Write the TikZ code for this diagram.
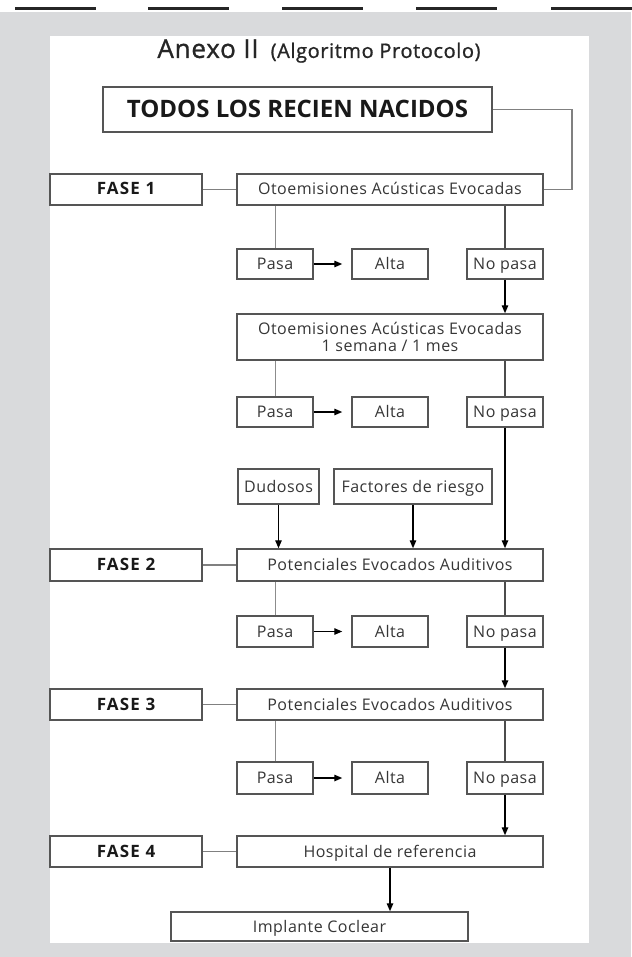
\documentclass[tikz,border=0pt]{standalone}
\usepackage{fontspec}
\setmainfont{Open Sans}
\newfontfamily\cajafont{Open Sans}[LetterSpace=3]
\newfontfamily\fasefont{Open Sans}[LetterSpace=7]
\newfontfamily\titulofont{Open Sans}[LetterSpace=3,FakeBold=1]
\usetikzlibrary{arrows.meta}
\definecolor{fondo}{HTML}{D9DADC}
\definecolor{borde}{HTML}{555555}
\definecolor{texto}{HTML}{363636}

\tikzset{
  caja/.style={draw=borde,line width=1.5pt,fill=white,inner sep=0pt,text=texto,
    font=\cajafont\fontsize{16}{17}\selectfont},
  centrada/.style={text height=11pt,text depth=0pt},
  fase/.style={caja,centrada,minimum width=152pt,minimum height=31pt,text=black!90,
    font=\fasefont\bfseries\fontsize{17}{18}\selectfont},
  prueba/.style={caja,minimum width=306pt,minimum height=31pt},
  chica/.style={caja,centrada,minimum width=76pt,minimum height=30pt},
  linea/.style={draw=black!45,line width=1pt},
  lineafase/.style={draw=black!50,line width=1.5pt},
  lineano/.style={draw=black!70,line width=1.3pt},
  flecha/.style={draw=black,line width=1.4pt,->}
}

\begin{document}
\begin{tikzpicture}[x=1pt,y=-1pt,>={Triangle[length=8pt,width=6.5pt]}]
	\useasboundingbox (0,0) rectangle (631,957);
	%fondo gris, hoja blanca y guiones de arriba
	\fill[fondo] (0,12) rectangle (631,957);
	\fill[white] (50,36) rectangle (589,943);
	\foreach \x in {15,148,282,416,551}
		\fill[black!85] (\x,7) rectangle ++(81,3);

	%titulo
	\node (titulo) at(319,51) [text=black!85,inner sep=0pt] {{\titulofont\fontsize{26}{28}\selectfont Anexo II}\hspace{12pt}{\titulofont\fontsize{20}{22}\selectfont (Algoritmo Protocolo)}} ;
	\node (todos) at(297.5,109.5) [caja,centrada,text height=17pt,minimum width=389pt,minimum height=45pt,text=black!90,font=\bfseries\fontsize{24}{27}\selectfont] {TODOS LOS RECIEN NACIDOS} ;
	\coordinate (giro) at(572,109.5) ;

	%fase 1
	\node (fase 1) at(126,189.5) [fase] {FASE 1} ;
	\node (oea 1) at(390,189.5) [prueba,centrada] {Otoemisiones Acústicas Evocadas} ;
	\node (pasa 1) at(275,264) [chica] {Pasa} ;
	\node (alta 1) at(390,264) [chica] {Alta} ;
	\node (nopasa 1) at(505,264) [chica] {No pasa} ;
	\node (oea 2) at(390,337) [prueba,minimum height=46pt,align=center] {Otoemisiones Acústicas Evocadas\\1 semana / 1 mes} ;
	\node (pasa 2) at(275,412) [chica] {Pasa} ;
	\node (alta 2) at(390,412) [chica] {Alta} ;
	\node (nopasa 2) at(505,412) [chica] {No pasa} ;
	\node (dudosos) at(278.5,486.5) [caja,centrada,minimum width=81pt,minimum height=35pt] {Dudosos} ;
	\node (factores) at(413,486.5) [caja,centrada,minimum width=158pt,minimum height=35pt] {Factores de riesgo} ;

	%fase 2
	\node (fase 2) at(126,565) [fase,minimum height=32pt] {FASE 2} ;
	\node (pea 1) at(390,565) [prueba,centrada,minimum height=32pt] {Potenciales Evocados Auditivos} ;
	\node (pasa 3) at(275,631.5) [chica,minimum height=31pt] {Pasa} ;
	\node (alta 3) at(390,631.5) [chica,minimum height=31pt] {Alta} ;
	\node (nopasa 3) at(505,631.5) [chica,minimum height=31pt] {No pasa} ;

	%fase 3
	\node (fase 3) at(126,704.5) [fase] {FASE 3} ;
	\node (pea 2) at(390,704.5) [prueba,centrada] {Potenciales Evocados Auditivos} ;
	\node (pasa 4) at(275,778) [chica,minimum height=32pt] {Pasa} ;
	\node (alta 4) at(390,778) [chica,minimum height=32pt] {Alta} ;
	\node (nopasa 4) at(505,778) [chica,minimum height=32pt] {No pasa} ;

	%fase 4
	\node (fase 4) at(126,851.5) [fase] {FASE 4} ;
	\node (hospital) at(390,851.5) [prueba,centrada] {Hospital de referencia} ;
	\node (implante) at(319.5,926.5) [caja,centrada,minimum width=297pt,minimum height=29pt] {Implante Coclear} ;

	\draw[lineafase] (todos.east) -- (giro) |- (oea 1.east) ;
	\path
		(fase 1) edge[lineafase] (oea 1)
		(fase 2) edge[lineafase] (pea 1)
		(fase 3) edge[lineafase] (pea 2)
		(fase 4) edge[lineafase] (hospital)
		(pasa 1.north) edge[linea] (pasa 1.north |- oea 1.south)
		(pasa 2.north) edge[linea] (pasa 2.north |- oea 2.south)
		(pasa 3.north) edge[linea] (pasa 3.north |- pea 1.south)
		(pasa 4.north) edge[linea] (pasa 4.north |- pea 2.south)
		(nopasa 1.north) edge[lineano] (nopasa 1.north |- oea 1.south)
		(nopasa 2.north) edge[lineano] (nopasa 2.north |- oea 2.south)
		(nopasa 3.north) edge[lineano] (nopasa 3.north |- pea 1.south)
		(nopasa 4.north) edge[lineano] (nopasa 4.north |- pea 2.south)
		(pasa 1) edge[flecha,shorten >=9pt] (alta 1)
		(pasa 2) edge[flecha,shorten >=9pt] (alta 2)
		(pasa 3) edge[flecha,shorten >=9pt] (alta 3)
		(pasa 4) edge[flecha,shorten >=9pt] (alta 4)
		(nopasa 1) edge[flecha] (nopasa 1 |- oea 2.north)
		(nopasa 2) edge[flecha] (nopasa 2 |- pea 1.north)
		(dudosos) edge[flecha] (dudosos |- pea 1.north)
		(factores) edge[flecha] (factores |- pea 1.north)
		(nopasa 3) edge[flecha] (nopasa 3 |- pea 2.north)
		(nopasa 4) edge[flecha] (nopasa 4 |- hospital.north)
		(hospital) edge[flecha] (hospital |- implante.north)
		;
\end{tikzpicture}
\end{document}
